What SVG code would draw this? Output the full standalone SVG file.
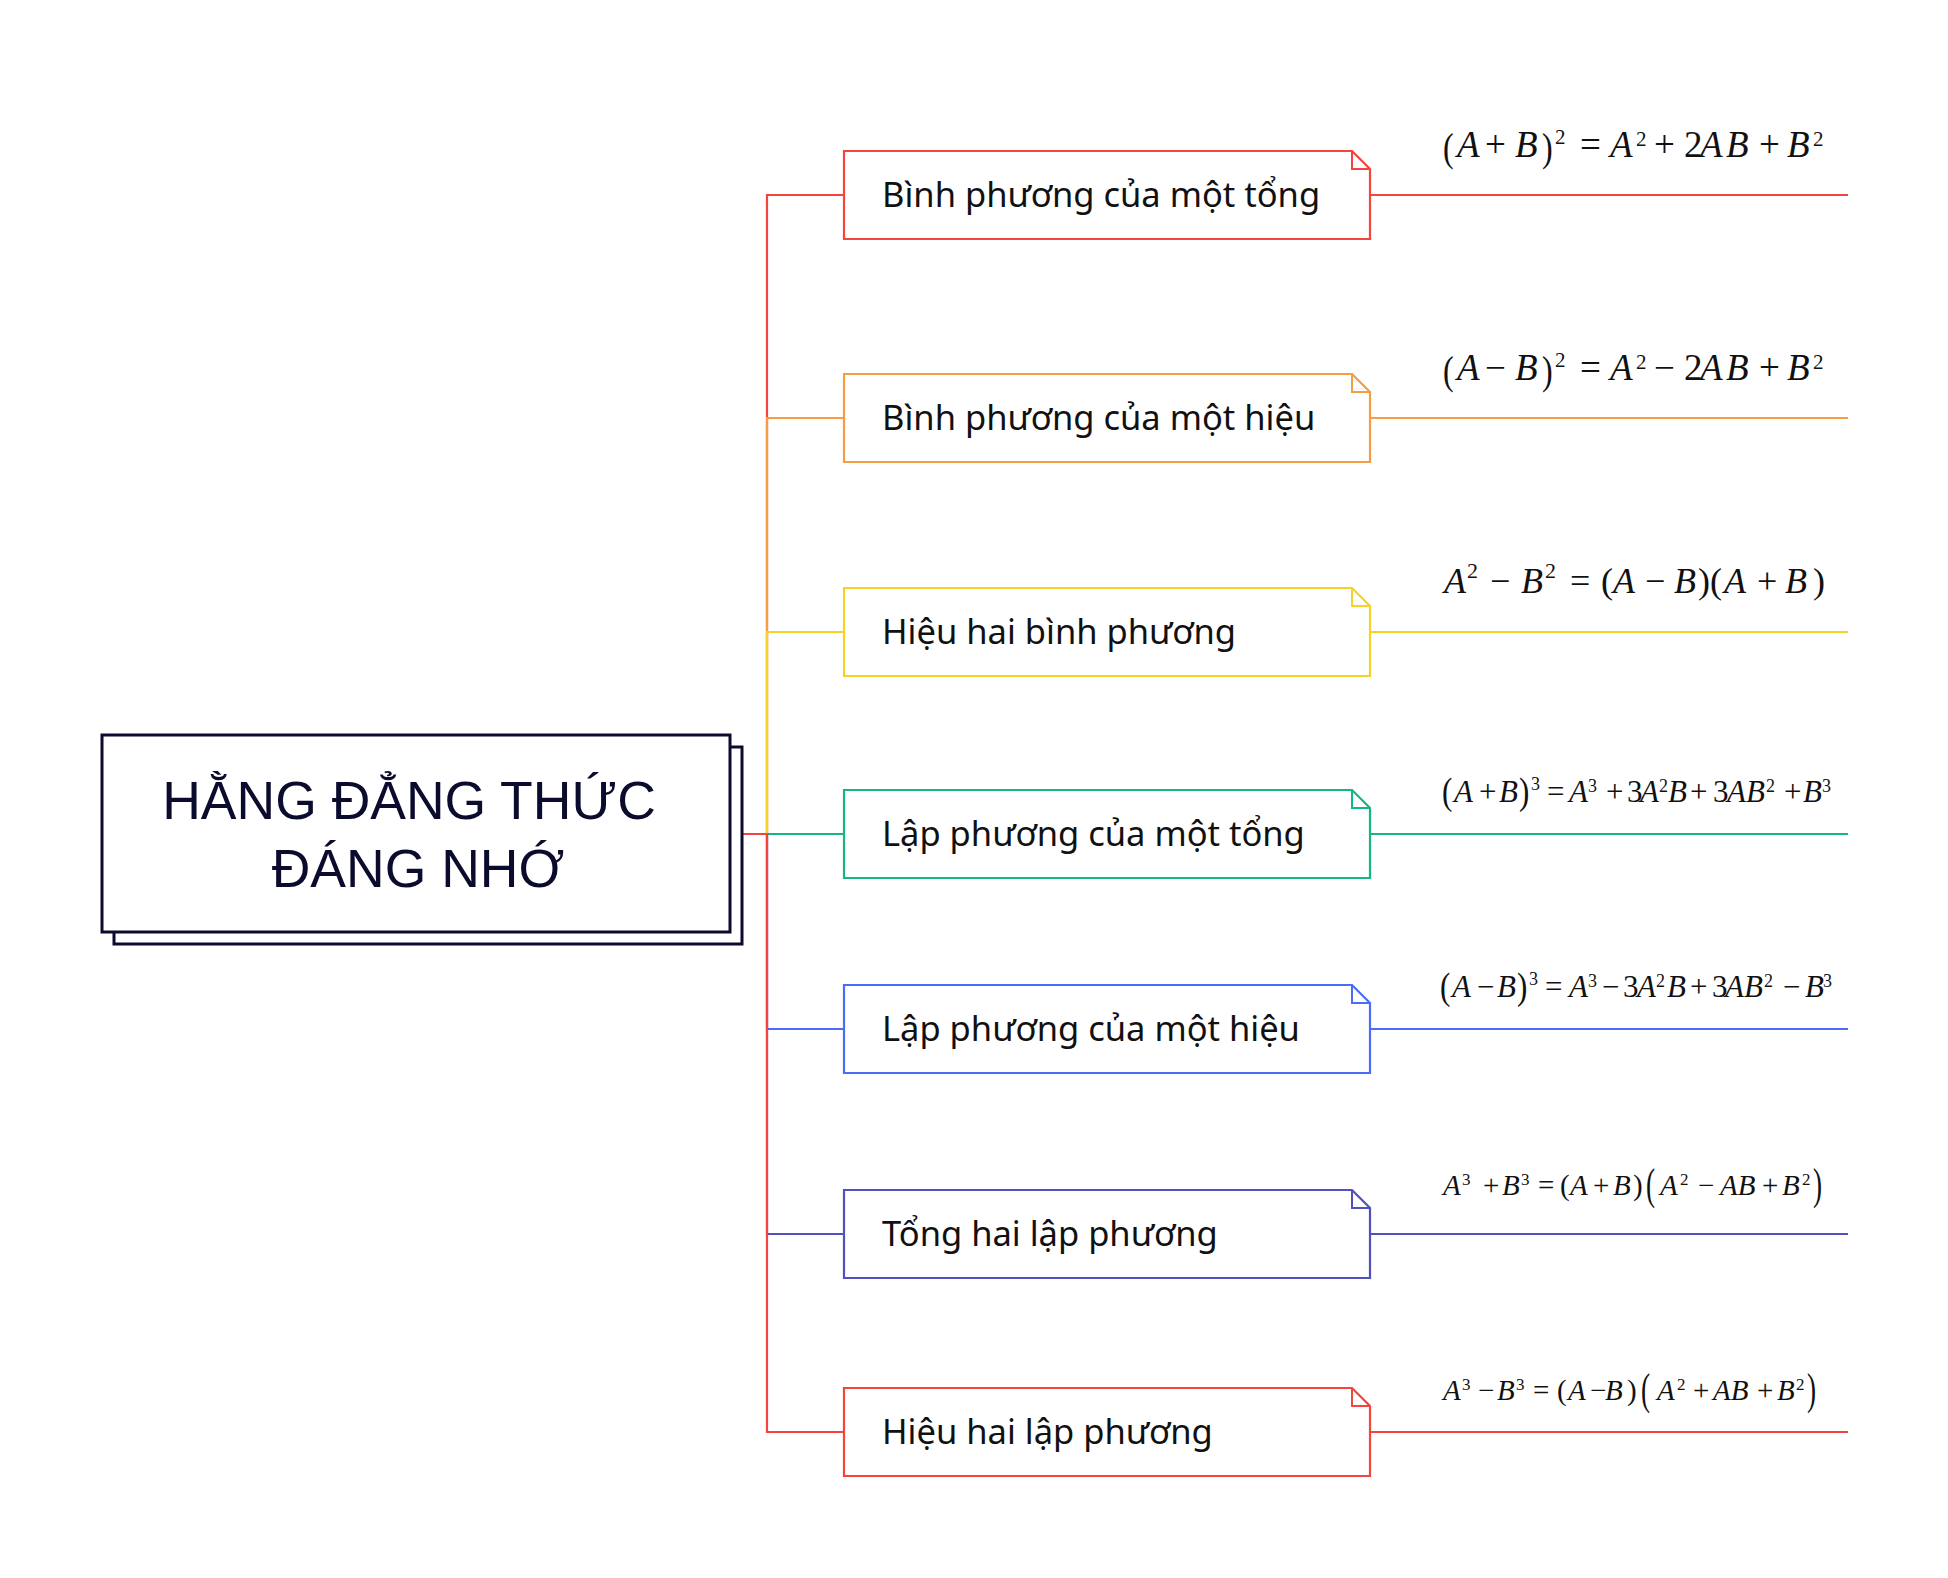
<svg xmlns="http://www.w3.org/2000/svg" width="1948" height="1578" viewBox="0 0 1948 1578">
<style>
.bg{fill:#ffffff}
.title{font-family:"Liberation Sans",Arial,sans-serif;font-size:53.5px;fill:#0b0b2e;text-anchor:middle}
.mainbox{fill:#ffffff;stroke:#0b0b2e;stroke-width:3}
.node{fill:#ffffff;stroke-width:2.2}
.fold{fill:none;stroke-width:2}
.lbl{font-family:"Noto Sans","Open Sans",sans-serif;font-size:34.5px;fill:#111111}
.m{font-family:"Liberation Serif","Times New Roman",serif;fill:#111111}
.i{font-style:italic}
.con{fill:none;stroke-width:2.2}
.c1{stroke:#F4443E}.c2{stroke:#F59C45}.c3{stroke:#F4D228}.c4{stroke:#14B780}.c5{stroke:#4A6CF7}.c6{stroke:#5050BE}.c7{stroke:#F4443E}
</style>
<rect class="bg" x="0" y="0" width="1948" height="1578"/>

<g id="connectors">
<path class="con c1" d="M731,834 H767 V195 H844"/>
<path class="con c2" d="M731,834 H767 V418 H844"/>
<path class="con c3" d="M731,834 H767 V632 H844"/>
<path class="con c4" d="M731,834 H767 V834 H844"/>
<path class="con c5" d="M731,834 H767 V1029 H844"/>
<path class="con c6" d="M731,834 H767 V1234 H844"/>
<path class="con c7" d="M731,834 H767 V1432 H844"/>
<path class="con c1" d="M1370,195 H1848"/>
<path class="con c2" d="M1370,418 H1848"/>
<path class="con c3" d="M1370,632 H1848"/>
<path class="con c4" d="M1370,834 H1848"/>
<path class="con c5" d="M1370,1029 H1848"/>
<path class="con c6" d="M1370,1234 H1848"/>
<path class="con c7" d="M1370,1432 H1848"/>
</g>

<g id="root">
<rect class="mainbox" x="114" y="747" width="628" height="197"/>
<rect class="mainbox" x="102" y="735" width="628" height="197"/>
<text class="title" x="409" y="819">HẰNG ĐẲNG THỨC</text>
<text class="title" x="418" y="887">ĐÁNG NHỚ</text>
</g>

<g id="node1">
<path class="node c1" d="M844,151 H1352 L1370,169 V239 H844 Z"/>
<path class="fold c1" d="M1352,151 V169 H1370"/>
<text class="lbl" x="882" y="207">Bình phương của một tổng</text>
</g>
<g id="node2">
<path class="node c2" d="M844,374 H1352 L1370,392 V462 H844 Z"/>
<path class="fold c2" d="M1352,374 V392 H1370"/>
<text class="lbl" x="882" y="430">Bình phương của một hiệu</text>
</g>
<g id="node3">
<path class="node c3" d="M844,588 H1352 L1370,606 V676 H844 Z"/>
<path class="fold c3" d="M1352,588 V606 H1370"/>
<text class="lbl" x="882" y="644">Hiệu hai bình phương</text>
</g>
<g id="node4">
<path class="node c4" d="M844,790 H1352 L1370,808 V878 H844 Z"/>
<path class="fold c4" d="M1352,790 V808 H1370"/>
<text class="lbl" x="882" y="846">Lập phương của một tổng</text>
</g>
<g id="node5">
<path class="node c5" d="M844,985 H1352 L1370,1003 V1073 H844 Z"/>
<path class="fold c5" d="M1352,985 V1003 H1370"/>
<text class="lbl" x="882" y="1041">Lập phương của một hiệu</text>
</g>
<g id="node6">
<path class="node c6" d="M844,1190 H1352 L1370,1208 V1278 H844 Z"/>
<path class="fold c6" d="M1352,1190 V1208 H1370"/>
<text class="lbl" x="882" y="1246">Tổng hai lập phương</text>
</g>
<g id="node7">
<path class="node c7" d="M844,1388 H1352 L1370,1406 V1476 H844 Z"/>
<path class="fold c7" d="M1352,1388 V1406 H1370"/>
<text class="lbl" x="882" y="1444">Hiệu hai lập phương</text>
</g>

<g id="formula1">
<text class="m" font-size="32" transform="translate(1443,161) scale(1,1.25)">(</text>
<text class="m" font-size="32" transform="translate(1542,161) scale(1,1.25)">)</text>
<text class="m" font-size="37" y="157"><tspan class="i" x="1457">A</tspan><tspan x="1485">+</tspan><tspan class="i" x="1515">B</tspan><tspan x="1555" y="144" font-size="21">2</tspan><tspan x="1580" y="157">=</tspan><tspan class="i" x="1610">A</tspan><tspan x="1636" y="146" font-size="21">2</tspan><tspan x="1654" y="157">+</tspan><tspan x="1684">2</tspan><tspan class="i" x="1700">A</tspan><tspan class="i" x="1726">B</tspan><tspan x="1759">+</tspan><tspan class="i" x="1787">B</tspan><tspan x="1813" y="146" font-size="21">2</tspan></text>
</g>
<g id="formula2">
<text class="m" font-size="32" transform="translate(1443,384) scale(1,1.25)">(</text>
<text class="m" font-size="32" transform="translate(1542,384) scale(1,1.25)">)</text>
<text class="m" font-size="37" y="380"><tspan class="i" x="1457">A</tspan><tspan x="1485">−</tspan><tspan class="i" x="1515">B</tspan><tspan x="1555" y="367" font-size="21">2</tspan><tspan x="1580" y="380">=</tspan><tspan class="i" x="1610">A</tspan><tspan x="1636" y="369" font-size="21">2</tspan><tspan x="1654" y="380">−</tspan><tspan x="1684">2</tspan><tspan class="i" x="1700">A</tspan><tspan class="i" x="1726">B</tspan><tspan x="1759">+</tspan><tspan class="i" x="1787">B</tspan><tspan x="1813" y="369" font-size="21">2</tspan></text>
</g>
<g id="formula3">
<text class="m" font-size="36" y="593"><tspan class="i" x="1444">A</tspan><tspan x="1467" y="578" font-size="22">2</tspan><tspan x="1490" y="593">−</tspan><tspan class="i" x="1521">B</tspan><tspan x="1545" y="578" font-size="22">2</tspan><tspan x="1570" y="593">=</tspan><tspan x="1601">(</tspan><tspan class="i" x="1613">A</tspan><tspan x="1645">−</tspan><tspan class="i" x="1674">B</tspan><tspan x="1698">)(</tspan><tspan class="i" x="1724">A</tspan><tspan x="1757">+</tspan><tspan class="i" x="1785">B</tspan><tspan x="1813">)</tspan></text>
</g>
<g id="formula4">
<text class="m" font-size="31" transform="translate(1442,804) scale(1,1.2)">(</text>
<text class="m" font-size="31" transform="translate(1519,804) scale(1,1.2)">)</text>
<text class="m" font-size="31" y="802"><tspan class="i" x="1454">A</tspan><tspan x="1479">+</tspan><tspan class="i" x="1499">B</tspan><tspan x="1531" y="790" font-size="18">3</tspan><tspan x="1547" y="802">=</tspan><tspan class="i" x="1569">A</tspan><tspan x="1588" y="792" font-size="18">3</tspan><tspan x="1606" y="802">+</tspan><tspan x="1627">3</tspan><tspan class="i" x="1640">A</tspan><tspan x="1659" y="792" font-size="18">2</tspan><tspan class="i" x="1668" y="802">B</tspan><tspan x="1690">+</tspan><tspan x="1713">3</tspan><tspan class="i" x="1727">AB</tspan><tspan x="1766" y="792" font-size="18">2</tspan><tspan x="1784" y="802">+</tspan><tspan class="i" x="1803">B</tspan><tspan x="1822" y="792" font-size="18">3</tspan></text>
</g>
<g id="formula5">
<text class="m" font-size="31" transform="translate(1440,999) scale(1,1.2)">(</text>
<text class="m" font-size="31" transform="translate(1517,999) scale(1,1.2)">)</text>
<text class="m" font-size="31" y="997"><tspan class="i" x="1452">A</tspan><tspan x="1477">−</tspan><tspan class="i" x="1497">B</tspan><tspan x="1529" y="985" font-size="18">3</tspan><tspan x="1545" y="997">=</tspan><tspan class="i" x="1569">A</tspan><tspan x="1588" y="987" font-size="18">3</tspan><tspan x="1602" y="997">−</tspan><tspan x="1623">3</tspan><tspan class="i" x="1637">A</tspan><tspan x="1656" y="987" font-size="18">2</tspan><tspan class="i" x="1667" y="997">B</tspan><tspan x="1690">+</tspan><tspan x="1712">3</tspan><tspan class="i" x="1725">AB</tspan><tspan x="1764" y="987" font-size="18">2</tspan><tspan x="1783" y="997">−</tspan><tspan class="i" x="1805">B</tspan><tspan x="1823" y="987" font-size="18">3</tspan></text>
</g>
<g id="formula6">
<text class="m" font-size="34" transform="translate(1646,1199) scale(0.8,1.3)">(</text>
<text class="m" font-size="34" transform="translate(1813,1199) scale(0.8,1.3)">)</text>
<text class="m" font-size="29" y="1195"><tspan class="i" x="1443">A</tspan><tspan x="1462" y="1185" font-size="17">3</tspan><tspan x="1483" y="1195">+</tspan><tspan class="i" x="1502">B</tspan><tspan x="1521" y="1185" font-size="17">3</tspan><tspan x="1538" y="1195">=</tspan><tspan x="1560">(</tspan><tspan class="i" x="1570">A</tspan><tspan x="1593">+</tspan><tspan class="i" x="1613">B</tspan><tspan x="1633">)</tspan><tspan class="i" x="1660">A</tspan><tspan x="1680" y="1185" font-size="17">2</tspan><tspan x="1698" y="1195">−</tspan><tspan class="i" x="1720">AB</tspan><tspan x="1762">+</tspan><tspan class="i" x="1782">B</tspan><tspan x="1802" y="1185" font-size="17">2</tspan></text>
</g>
<g id="formula7">
<text class="m" font-size="34" transform="translate(1641,1404) scale(0.8,1.3)">(</text>
<text class="m" font-size="34" transform="translate(1807,1404) scale(0.8,1.3)">)</text>
<text class="m" font-size="29" y="1400"><tspan class="i" x="1443">A</tspan><tspan x="1462" y="1390" font-size="17">3</tspan><tspan x="1478" y="1400">−</tspan><tspan class="i" x="1497">B</tspan><tspan x="1516" y="1390" font-size="17">3</tspan><tspan x="1533" y="1400">=</tspan><tspan x="1557">(</tspan><tspan class="i" x="1568">A</tspan><tspan x="1590">−</tspan><tspan class="i" x="1605">B</tspan><tspan x="1627">)</tspan><tspan class="i" x="1657">A</tspan><tspan x="1677" y="1390" font-size="17">2</tspan><tspan x="1693" y="1400">+</tspan><tspan class="i" x="1713">AB</tspan><tspan x="1757">+</tspan><tspan class="i" x="1777">B</tspan><tspan x="1796" y="1390" font-size="17">2</tspan></text>
</g>
</svg>
